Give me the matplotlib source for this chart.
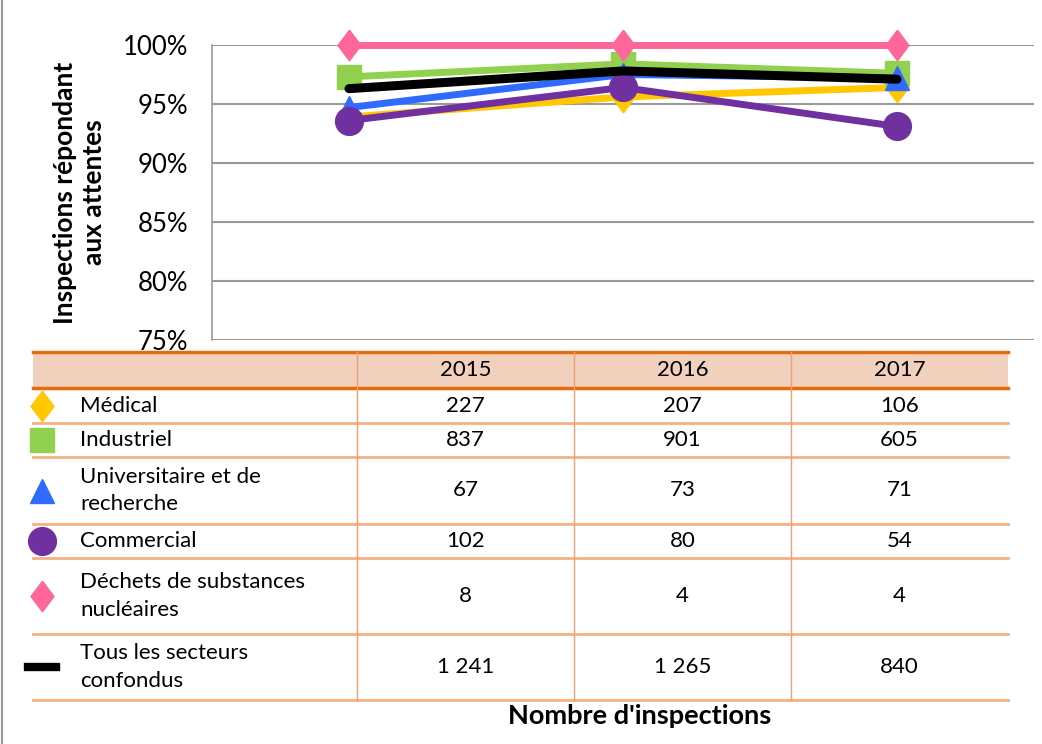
"""Taux d'inspections répondant aux attentes, par secteur, 2015-2017."""

import numpy as np
import matplotlib.pyplot as plt
from matplotlib.patches import Rectangle

plt.rcParams['font.family'] = ['Lato', 'DejaVu Sans']

# ------------------------------
# Data
# ------------------------------

years = ["2015", "2016", "2017"]
sectors = ["Médical", "Industriel", "Universitaire et de\nrecherche", "Commercial",
           "Déchets de substances\nnucléaires", "Tous les secteurs\nconfondus"]

pct_medical = [93.9, 95.6, 96.4]
pct_industriel = [97.3, 98.4, 97.6]
pct_universitaire = [94.7, 97.5, 97.2]
pct_commercial = [93.6, 96.4, 93.1]
pct_dechets = [100.0, 100.0, 100.0]
pct_tous = [96.3, 97.8, 97.1]

n_medical = [227, 207, 106]
n_industriel = [837, 901, 605]
n_universitaire = [67, 73, 71]
n_commercial = [102, 80, 54]
n_dechets = [8, 4, 4]
n_tous = [1241, 1265, 840]

pcts = [pct_medical, pct_industriel, pct_universitaire, pct_commercial, pct_dechets, pct_tous]
counts = [n_medical, n_industriel, n_universitaire, n_commercial, n_dechets, n_tous]

# diamond a bit wider than matplotlib's thin diamond
diamond = [(0, 1), (0.75, 0), (0, -1), (-0.75, 0), (0, 1)]

# style per sector: color, marker, marker size, zorder
styles = [
    ("#FFC800", diamond, 22, 2),
    ("#92D050", "s", 17, 3),
    ("#2F6BFF", "^", 17, 4),
    ("#7030A0", "o", 20, 5),
    ("#FF6699", diamond, 22, 7),
    ("#000000", None, 0, 6),
]

# ------------------------------
# Figure / chart
# ------------------------------

W, H = 1042, 744
fig = plt.figure(figsize=(W / 100, H / 100), dpi=100)

def px_rect(x0, y0, x1, y1):
    return [x0 / W, 1 - y1 / H, (x1 - x0) / W, (y1 - y0) / H]

ax = fig.add_axes(px_rect(212, 45, 1034, 340))
x = np.arange(len(years))
for vals, (col, mk, ms, z) in zip(pcts, styles):
    if mk is None:
        ax.plot(x, vals, color=col, lw=6.5, solid_capstyle='round', zorder=z, clip_on=False)
    else:
        ax.plot(x, vals, color=col, lw=5, marker=mk, markersize=ms, zorder=z, clip_on=False)

ax.set_xlim(-0.5, 2.5)
ax.set_ylim(75, 100)
ax.set_yticks([75, 80, 85, 90, 95, 100])
ax.set_yticklabels([f"{t}%" for t in [75, 80, 85, 90, 95, 100]], fontsize=18.5)
ax.set_xticks([])
ax.tick_params(axis='y', length=0, pad=17)
ax.yaxis.grid(True, color="#999999", lw=1.5)
ax.set_axisbelow(True)
for s in ["top", "right", "bottom"]:
    ax.spines[s].set_visible(False)
ax.spines["left"].set_color("#999999")
ax.spines["left"].set_linewidth(1.2)
ax.set_ylabel("Inspections répondant\naux attentes", fontsize=19,
              fontweight='bold', labelpad=12, linespacing=1.25)

# ------------------------------
# Data table below the chart (pixel coordinates)
# ------------------------------

tab = fig.add_axes([0, 0, 1, 1], zorder=-1)
tab.set_xlim(0, W)
tab.set_ylim(H, 0)
tab.axis('off')

col_edges = [33, 357, 574, 791, 1008]
row_edges = [352, 388, 423, 457, 524, 558, 634, 700]
dark_orange = "#E46C0A"
light_orange = "#F4B183"

tab.add_patch(Rectangle((col_edges[0], row_edges[0]), col_edges[-1] - col_edges[0],
                        row_edges[1] - row_edges[0], color="#F2D0BE", lw=0))
for yy in row_edges[:2]:
    tab.plot([col_edges[0], col_edges[-1]], [yy, yy], color=dark_orange, lw=2.5)
for yy in row_edges[2:]:
    tab.plot([col_edges[0], col_edges[-1]], [yy, yy], color=light_orange, lw=2)
for xx in col_edges[1:-1]:
    tab.plot([xx, xx], [row_edges[0], row_edges[-1]], color="#F0A070", lw=1)

centers = [(a + b) / 2 for a, b in zip(col_edges[1:-1], col_edges[2:])]
for cx, yr in zip(centers, years):
    tab.text(cx, (row_edges[0] + row_edges[1]) / 2, yr, ha='center', va='center', fontsize=16)

for i, (name, vals, (col, mk, ms, z)) in enumerate(zip(sectors, counts, styles)):
    cy = (row_edges[i + 1] + row_edges[i + 2]) / 2
    if mk is None:
        tab.plot([28, 56], [cy, cy], color=col, lw=6)
    else:
        tab.plot([42], [cy], color=col, marker=mk, markersize=ms, lw=0)
    tab.text(80, cy, name, ha='left', va='center', fontsize=16, linespacing=1.45)
    for cx, v in zip(centers, vals):
        tab.text(cx, cy, f"{v:,}".replace(",", " "), ha='center', va='center', fontsize=16)

tab.text(640, 716, "Nombre d'inspections", ha='center', va='center',
         fontsize=19.5, fontweight='bold')
tab.plot([1.5, 1.5], [0, H], color="#999999", lw=1.5)

fig.savefig("out.png", dpi=100)
